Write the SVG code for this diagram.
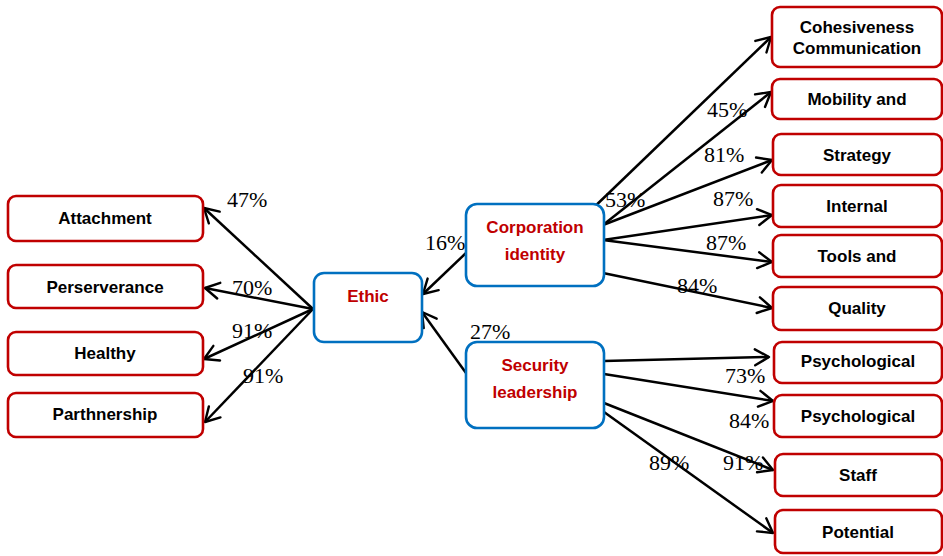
<svg xmlns="http://www.w3.org/2000/svg" width="943" height="556" viewBox="0 0 943 556">
<defs>
<marker id="arr" markerUnits="userSpaceOnUse" markerWidth="20" markerHeight="20" refX="15" refY="10" orient="auto" overflow="visible">
<path d="M1,2 L15,10 L1,18" fill="none" stroke="#000" stroke-width="2.4" stroke-linecap="round" stroke-linejoin="round"/>
</marker>
<style>
.rb{fill:#fff;stroke:#C00000;stroke-width:2.6}
.bb{fill:#fff;stroke:#0070C0;stroke-width:2.6}
.t{font-family:"Liberation Sans",Arial,sans-serif;font-weight:bold;font-size:17px;fill:#000;text-anchor:middle}
.tr{font-family:"Liberation Sans",Arial,sans-serif;font-weight:bold;font-size:17px;fill:#C00000;text-anchor:middle}
.p{font-family:"Liberation Serif","Times New Roman",serif;font-size:22px;fill:#000}
.c{stroke:#000;stroke-width:2.5;fill:none;marker-end:url(#arr)}
</style>
</defs>
<rect width="943" height="556" fill="#fff"/>
<g id="connectors">
<line class="c" x1="313" y1="309" x2="204" y2="208"/>
<line class="c" x1="313" y1="309" x2="205" y2="288"/>
<line class="c" x1="313" y1="309" x2="204" y2="359"/>
<line class="c" x1="313" y1="309" x2="205" y2="422"/>
<line class="c" x1="466" y1="253" x2="423" y2="294"/>
<line class="c" x1="466" y1="373" x2="422" y2="312"/>
<line class="c" x1="588" y1="213" x2="771" y2="37"/>
<line class="c" x1="603" y1="225" x2="771" y2="92"/>
<line class="c" x1="603" y1="225" x2="772" y2="160"/>
<line class="c" x1="603" y1="240" x2="772" y2="215"/>
<line class="c" x1="603" y1="240" x2="772" y2="262"/>
<line class="c" x1="603" y1="273" x2="772" y2="308"/>
<line class="c" x1="604" y1="361" x2="769" y2="357"/>
<line class="c" x1="604" y1="374" x2="773" y2="401"/>
<line class="c" x1="604" y1="403" x2="773" y2="470"/>
<line class="c" x1="604" y1="412" x2="773" y2="533"/>
</g>
<g id="attachment"><rect class="rb" x="8" y="196" width="195" height="45" rx="8"/><text class="t" x="105" y="224">Attachment</text></g>
<g id="perserverance"><rect class="rb" x="8" y="265" width="195" height="43" rx="8"/><text class="t" x="105" y="293">Perserverance</text></g>
<g id="healthy"><rect class="rb" x="8" y="332" width="195" height="43" rx="8"/><text class="t" x="105" y="359">Healthy</text></g>
<g id="parthnership"><rect class="rb" x="8" y="393" width="195" height="44" rx="8"/><text class="t" x="105" y="420">Parthnership</text></g>
<g id="ethic"><rect class="bb" x="314" y="273" width="108" height="69" rx="10"/><text class="tr" x="368" y="302">Ethic</text></g>
<g id="corporation"><rect class="bb" x="466" y="204" width="138" height="82" rx="11"/><text class="tr" x="535" y="233">Corporation</text><text class="tr" x="535" y="260">identity</text></g>
<g id="security"><rect class="bb" x="466" y="342" width="138" height="86" rx="11"/><text class="tr" x="535" y="371">Security</text><text class="tr" x="535" y="398">leadership</text></g>
<g id="cohesiveness"><rect class="rb" x="772" y="7" width="170" height="60" rx="8"/><text class="t" x="857" y="33">Cohesiveness</text><text class="t" x="857" y="54">Communication</text></g>
<g id="mobility"><rect class="rb" x="772" y="79" width="170" height="40" rx="8"/><text class="t" x="857" y="105">Mobility and</text></g>
<g id="strategy"><rect class="rb" x="773" y="134" width="169" height="41" rx="8"/><text class="t" x="857" y="161">Strategy</text></g>
<g id="internal"><rect class="rb" x="773" y="185" width="169" height="42" rx="8"/><text class="t" x="857" y="212">Internal</text></g>
<g id="tools"><rect class="rb" x="773" y="235" width="169" height="42" rx="8"/><text class="t" x="857" y="262">Tools and</text></g>
<g id="quality"><rect class="rb" x="773" y="287" width="169" height="43" rx="8"/><text class="t" x="857" y="314">Quality</text></g>
<g id="psychological1"><rect class="rb" x="774" y="342" width="168" height="41" rx="8"/><text class="t" x="858" y="367">Psychological</text></g>
<g id="psychological2"><rect class="rb" x="774" y="395" width="168" height="42" rx="8"/><text class="t" x="858" y="422">Psychological</text></g>
<g id="staff"><rect class="rb" x="775" y="454" width="167" height="42" rx="8"/><text class="t" x="858" y="481">Staff</text></g>
<g id="potential"><rect class="rb" x="775" y="510" width="167" height="43" rx="8"/><text class="t" x="858" y="538">Potential</text></g>
<g id="labels">
<text class="p" x="227" y="207">47%</text>
<text class="p" x="232" y="295">70%</text>
<text class="p" x="232" y="338">91%</text>
<text class="p" x="243" y="383">91%</text>
<text class="p" x="425" y="250">16%</text>
<text class="p" x="470" y="339">27%</text>
<text class="p" x="605" y="207">53%</text>
<text class="p" x="707" y="117">45%</text>
<text class="p" x="704" y="162">81%</text>
<text class="p" x="713" y="206">87%</text>
<text class="p" x="706" y="250">87%</text>
<text class="p" x="677" y="293">84%</text>
<text class="p" x="725" y="383">73%</text>
<text class="p" x="729" y="428">84%</text>
<text class="p" x="649" y="470">89%</text>
<text class="p" x="723" y="470">91%</text>
</g>
</svg>
